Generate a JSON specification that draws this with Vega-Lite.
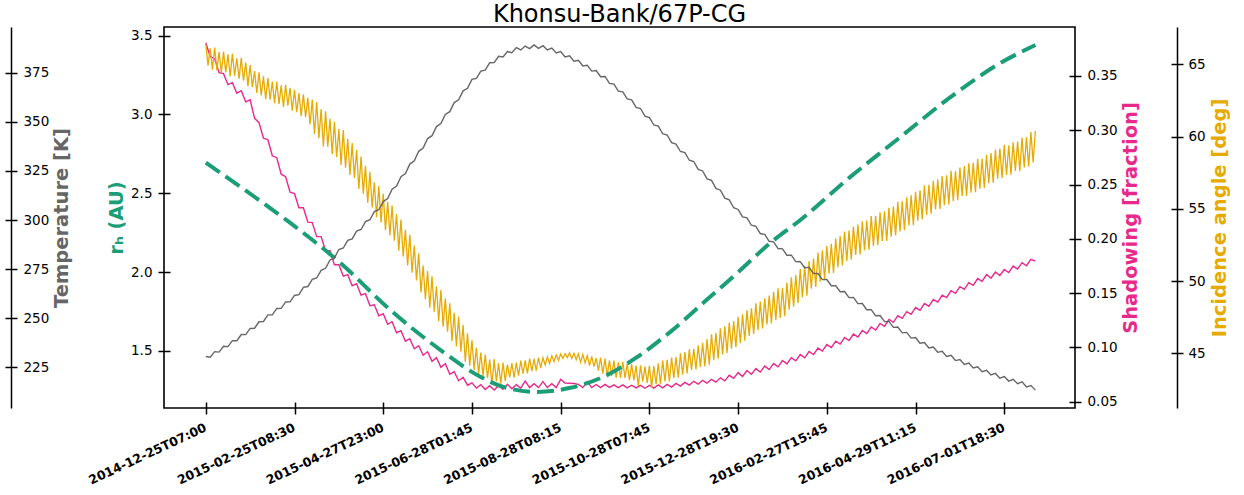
{
"$schema": "https://vega.github.io/schema/vega-lite/v6.json",
"width": 911, "height": 381,
"autosize": {"type": "none"},
"padding": {"left": 164, "top": 27, "right": 169, "bottom": 87},
"title": {"text": "Khonsu-Bank/67P-CG", "fontSize": 24, "font": "DejaVu Sans", "fontWeight": "normal", "color": "black", "anchor": "middle", "frame": "group", "offset": -19, "baseline": "alphabetic"},
"datasets": {
"temp": [{"i":0,"v":230.5},{"i":50,"v":230.15},{"i":100,"v":233.0},{"i":150,"v":232.75},{"i":200,"v":235.7},{"i":250,"v":235.55},{"i":300,"v":238.6},{"i":350,"v":238.55},{"i":400,"v":241.7},{"i":450,"v":241.65},{"i":500,"v":244.8},{"i":550,"v":244.9},{"i":600,"v":248.2},{"i":650,"v":248.35},{"i":700,"v":251.7},{"i":750,"v":251.75},{"i":800,"v":255.0},{"i":850,"v":255.05},{"i":900,"v":258.3},{"i":950,"v":258.35},{"i":1000,"v":261.6},{"i":1050,"v":262.05},{"i":1100,"v":265.7},{"i":1150,"v":266.15},{"i":1200,"v":269.8},{"i":1250,"v":270.5},{"i":1300,"v":274.4},{"i":1350,"v":275.45},{"i":1400,"v":279.7},{"i":1450,"v":280.75},{"i":1500,"v":285.0},{"i":1550,"v":285.75},{"i":1600,"v":289.7},{"i":1650,"v":290.45},{"i":1700,"v":294.4},{"i":1750,"v":295.2},{"i":1800,"v":299.2},{"i":1850,"v":300.15},{"i":1900,"v":304.3},{"i":1950,"v":305.25},{"i":2000,"v":309.4},{"i":2050,"v":310.95},{"i":2100,"v":315.7},{"i":2150,"v":317.3},{"i":2200,"v":322.1},{"i":2250,"v":323.7},{"i":2300,"v":328.5},{"i":2350,"v":330.15},{"i":2400,"v":335.0},{"i":2450,"v":336.65},{"i":2500,"v":341.5},{"i":2550,"v":342.95},{"i":2600,"v":347.6},{"i":2650,"v":349.1},{"i":2700,"v":353.8},{"i":2750,"v":355.2},{"i":2800,"v":359.8},{"i":2850,"v":361.2},{"i":2900,"v":365.8},{"i":2950,"v":367.1},{"i":3000,"v":371.6},{"i":3050,"v":372.1},{"i":3100,"v":375.8},{"i":3150,"v":376.35},{"i":3200,"v":380.1},{"i":3250,"v":380.15},{"i":3300,"v":383.4},{"i":3350,"v":383.0},{"i":3400,"v":385.8},{"i":3450,"v":385.2},{"i":3500,"v":387.8},{"i":3550,"v":386.6},{"i":3600,"v":388.6},{"i":3650,"v":387.3},{"i":3700,"v":389.2},{"i":3750,"v":387.4},{"i":3800,"v":388.8},{"i":3850,"v":386.6},{"i":3900,"v":387.6},{"i":3950,"v":385.1},{"i":4000,"v":385.8},{"i":4050,"v":383.1},{"i":4100,"v":383.6},{"i":4150,"v":380.85},{"i":4200,"v":381.3},{"i":4250,"v":378.45},{"i":4300,"v":378.8},{"i":4350,"v":375.85},{"i":4400,"v":376.1},{"i":4450,"v":373.0},{"i":4500,"v":373.1},{"i":4550,"v":369.55},{"i":4600,"v":369.2},{"i":4650,"v":365.65},{"i":4700,"v":365.3},{"i":4750,"v":361.65},{"i":4800,"v":361.2},{"i":4850,"v":357.4},{"i":4900,"v":356.8},{"i":4950,"v":352.9},{"i":5000,"v":352.2},{"i":5050,"v":348.4},{"i":5100,"v":347.8},{"i":5150,"v":343.95},{"i":5200,"v":343.3},{"i":5250,"v":339.4},{"i":5300,"v":338.7},{"i":5350,"v":334.9},{"i":5400,"v":334.3},{"i":5450,"v":330.45},{"i":5500,"v":329.8},{"i":5550,"v":325.8},{"i":5600,"v":325.0},{"i":5650,"v":321.0},{"i":5700,"v":320.2},{"i":5750,"v":316.1},{"i":5800,"v":315.2},{"i":5850,"v":311.15},{"i":5900,"v":310.3},{"i":5950,"v":306.25},{"i":6000,"v":305.4},{"i":6050,"v":301.65},{"i":6100,"v":301.1},{"i":6150,"v":297.35},{"i":6200,"v":296.8},{"i":6250,"v":293.15},{"i":6300,"v":292.7},{"i":6350,"v":289.2},{"i":6400,"v":288.9},{"i":6450,"v":285.5},{"i":6500,"v":285.3},{"i":6550,"v":282.1},{"i":6600,"v":282.1},{"i":6650,"v":278.85},{"i":6700,"v":278.8},{"i":6750,"v":275.75},{"i":6800,"v":275.9},{"i":6850,"v":272.75},{"i":6900,"v":272.8},{"i":6950,"v":269.65},{"i":7000,"v":269.7},{"i":7050,"v":266.55},{"i":7100,"v":266.6},{"i":7150,"v":263.5},{"i":7200,"v":263.6},{"i":7250,"v":260.5},{"i":7300,"v":260.6},{"i":7350,"v":257.45},{"i":7400,"v":257.5},{"i":7450,"v":254.35},{"i":7500,"v":254.4},{"i":7550,"v":251.3},{"i":7600,"v":251.4},{"i":7650,"v":248.3},{"i":7700,"v":248.4},{"i":7750,"v":245.35},{"i":7800,"v":245.5},{"i":7850,"v":242.55},{"i":7900,"v":242.8},{"i":7950,"v":239.9},{"i":8000,"v":240.2},{"i":8050,"v":237.3},{"i":8100,"v":237.6},{"i":8150,"v":234.85},{"i":8200,"v":235.3},{"i":8250,"v":232.65},{"i":8300,"v":233.2},{"i":8350,"v":230.55},{"i":8400,"v":231.1},{"i":8450,"v":228.45},{"i":8500,"v":229.0},{"i":8550,"v":226.5},{"i":8600,"v":227.2},{"i":8650,"v":224.65},{"i":8700,"v":225.3},{"i":8750,"v":222.8},{"i":8800,"v":223.5},{"i":8850,"v":221.1},{"i":8900,"v":221.9},{"i":8950,"v":219.5},{"i":9000,"v":220.3},{"i":9050,"v":218.0},{"i":9100,"v":218.9},{"i":9150,"v":216.65},{"i":9200,"v":217.6},{"i":9250,"v":215.05},{"i":9300,"v":215.7},{"i":9350,"v":213.4}],
"rh": [{"i":0,"v":2.694},{"i":388,"v":2.542},{"i":952,"v":2.312},{"i":1515,"v":2.059},{"i":2079,"v":1.760},{"i":2643,"v":1.507},{"i":3094,"v":1.336},{"i":3353,"v":1.272},{"i":3737,"v":1.240},{"i":4109,"v":1.266},{"i":4481,"v":1.336},{"i":4864,"v":1.462},{"i":5236,"v":1.621},{"i":5608,"v":1.805},{"i":5991,"v":1.995},{"i":6363,"v":2.185},{"i":6702,"v":2.331},{"i":7265,"v":2.604},{"i":7829,"v":2.857},{"i":8393,"v":3.110},{"i":8957,"v":3.327},{"i":9351,"v":3.441}],
"shad": [{"i":0,"v":0.3806},{"i":50,"v":0.3677},{"i":100,"v":0.3659},{"i":150,"v":0.3530},{"i":200,"v":0.3521},{"i":250,"v":0.3420},{"i":300,"v":0.3438},{"i":350,"v":0.3341},{"i":400,"v":0.3364},{"i":450,"v":0.3262},{"i":500,"v":0.3281},{"i":550,"v":0.3110},{"i":600,"v":0.3070},{"i":650,"v":0.2927},{"i":700,"v":0.2913},{"i":750,"v":0.2765},{"i":800,"v":0.2747},{"i":850,"v":0.2595},{"i":900,"v":0.2572},{"i":950,"v":0.2429},{"i":1000,"v":0.2416},{"i":1050,"v":0.2286},{"i":1100,"v":0.2287},{"i":1150,"v":0.2153},{"i":1200,"v":0.2149},{"i":1250,"v":0.2020},{"i":1300,"v":0.2020},{"i":1350,"v":0.1890},{"i":1400,"v":0.1891},{"i":1450,"v":0.1761},{"i":1500,"v":0.1762},{"i":1550,"v":0.1656},{"i":1600,"v":0.1670},{"i":1650,"v":0.1568},{"i":1700,"v":0.1587},{"i":1750,"v":0.1481},{"i":1800,"v":0.1495},{"i":1850,"v":0.1384},{"i":1900,"v":0.1393},{"i":1950,"v":0.1291},{"i":2000,"v":0.1310},{"i":2050,"v":0.1213},{"i":2100,"v":0.1237},{"i":2150,"v":0.1135},{"i":2200,"v":0.1154},{"i":2250,"v":0.1057},{"i":2300,"v":0.1080},{"i":2350,"v":0.0988},{"i":2400,"v":0.1016},{"i":2450,"v":0.0928},{"i":2500,"v":0.0960},{"i":2550,"v":0.0872},{"i":2600,"v":0.0905},{"i":2650,"v":0.0817},{"i":2700,"v":0.0850},{"i":2750,"v":0.0753},{"i":2800,"v":0.0776},{"i":2850,"v":0.0693},{"i":2900,"v":0.0725},{"i":2950,"v":0.0652},{"i":3000,"v":0.0674},{"i":3050,"v":0.0625},{"i":3100,"v":0.0656},{"i":3150,"v":0.0612},{"i":3200,"v":0.0647},{"i":3250,"v":0.0607},{"i":3300,"v":0.0647},{"i":3350,"v":0.0614},{"i":3400,"v":0.0661},{"i":3450,"v":0.0619},{"i":3500,"v":0.0656},{"i":3550,"v":0.0625},{"i":3600,"v":0.0690},{"i":3650,"v":0.0630},{"i":3700,"v":0.0665},{"i":3750,"v":0.0630},{"i":3800,"v":0.0685},{"i":3850,"v":0.0630},{"i":3900,"v":0.0665},{"i":3950,"v":0.0630},{"i":4000,"v":0.0705},{"i":4050,"v":0.0672},{"i":4100,"v":0.0670},{"i":4150,"v":0.0668},{"i":4200,"v":0.0660},{"i":4250,"v":0.0630},{"i":4300,"v":0.0685},{"i":4350,"v":0.0630},{"i":4400,"v":0.0658},{"i":4450,"v":0.0630},{"i":4500,"v":0.0660},{"i":4550,"v":0.0632},{"i":4600,"v":0.0655},{"i":4650,"v":0.0630},{"i":4700,"v":0.0655},{"i":4750,"v":0.0628},{"i":4800,"v":0.0652},{"i":4850,"v":0.0627},{"i":4900,"v":0.0650},{"i":4950,"v":0.0624},{"i":5000,"v":0.0651},{"i":5050,"v":0.0625},{"i":5100,"v":0.0655},{"i":5150,"v":0.0628},{"i":5200,"v":0.0660},{"i":5250,"v":0.0635},{"i":5300,"v":0.0669},{"i":5350,"v":0.0644},{"i":5400,"v":0.0678},{"i":5450,"v":0.0653},{"i":5500,"v":0.0688},{"i":5550,"v":0.0662},{"i":5600,"v":0.0697},{"i":5650,"v":0.0671},{"i":5700,"v":0.0706},{"i":5750,"v":0.0680},{"i":5800,"v":0.0720},{"i":5850,"v":0.0692},{"i":5900,"v":0.0743},{"i":5950,"v":0.0715},{"i":6000,"v":0.0768},{"i":6050,"v":0.0733},{"i":6100,"v":0.0787},{"i":6150,"v":0.0752},{"i":6200,"v":0.0805},{"i":6250,"v":0.0773},{"i":6300,"v":0.0828},{"i":6350,"v":0.0796},{"i":6400,"v":0.0851},{"i":6450,"v":0.0821},{"i":6500,"v":0.0879},{"i":6550,"v":0.0848},{"i":6600,"v":0.0906},{"i":6650,"v":0.0876},{"i":6700,"v":0.0934},{"i":6750,"v":0.0904},{"i":6800,"v":0.0962},{"i":6850,"v":0.0934},{"i":6900,"v":0.0994},{"i":6950,"v":0.0966},{"i":7000,"v":0.1026},{"i":7050,"v":0.0998},{"i":7100,"v":0.1058},{"i":7150,"v":0.1031},{"i":7200,"v":0.1091},{"i":7250,"v":0.1063},{"i":7300,"v":0.1123},{"i":7350,"v":0.1095},{"i":7400,"v":0.1155},{"i":7450,"v":0.1127},{"i":7500,"v":0.1188},{"i":7550,"v":0.1160},{"i":7600,"v":0.1220},{"i":7650,"v":0.1194},{"i":7700,"v":0.1257},{"i":7750,"v":0.1231},{"i":7800,"v":0.1293},{"i":7850,"v":0.1268},{"i":7900,"v":0.1330},{"i":7950,"v":0.1305},{"i":8000,"v":0.1367},{"i":8050,"v":0.1342},{"i":8100,"v":0.1404},{"i":8150,"v":0.1379},{"i":8200,"v":0.1441},{"i":8250,"v":0.1418},{"i":8300,"v":0.1482},{"i":8350,"v":0.1459},{"i":8400,"v":0.1523},{"i":8450,"v":0.1498},{"i":8500,"v":0.1560},{"i":8550,"v":0.1535},{"i":8600,"v":0.1597},{"i":8650,"v":0.1572},{"i":8700,"v":0.1634},{"i":8750,"v":0.1609},{"i":8800,"v":0.1671},{"i":8850,"v":0.1638},{"i":8900,"v":0.1694},{"i":8950,"v":0.1662},{"i":9000,"v":0.1717},{"i":9050,"v":0.1689},{"i":9100,"v":0.1749},{"i":9150,"v":0.1721},{"i":9200,"v":0.1781},{"i":9250,"v":0.1752},{"i":9300,"v":0.1812},{"i":9350,"v":0.1795}],
"inc": [{"i":0,"v":66.39},{"i":25,"v":64.92},{"i":50,"v":66.10},{"i":75,"v":64.63},{"i":100,"v":66.16},{"i":125,"v":64.59},{"i":150,"v":65.87},{"i":175,"v":64.40},{"i":200,"v":65.88},{"i":225,"v":64.44},{"i":250,"v":65.69},{"i":275,"v":64.15},{"i":300,"v":65.75},{"i":325,"v":64.21},{"i":350,"v":65.41},{"i":375,"v":64.00},{"i":400,"v":65.44},{"i":425,"v":63.86},{"i":450,"v":65.12},{"i":475,"v":63.49},{"i":500,"v":64.95},{"i":525,"v":63.42},{"i":550,"v":64.53},{"i":575,"v":63.01},{"i":600,"v":64.44},{"i":625,"v":62.85},{"i":650,"v":64.16},{"i":675,"v":62.58},{"i":700,"v":64.04},{"i":725,"v":62.55},{"i":750,"v":63.81},{"i":775,"v":62.31},{"i":800,"v":63.80},{"i":825,"v":62.25},{"i":850,"v":63.54},{"i":875,"v":62.04},{"i":900,"v":63.58},{"i":925,"v":62.13},{"i":950,"v":63.37},{"i":975,"v":61.78},{"i":1000,"v":63.23},{"i":1025,"v":61.69},{"i":1050,"v":63.00},{"i":1075,"v":61.41},{"i":1100,"v":62.92},{"i":1125,"v":61.33},{"i":1150,"v":62.68},{"i":1175,"v":60.84},{"i":1200,"v":62.55},{"i":1225,"v":60.17},{"i":1250,"v":62.38},{"i":1275,"v":59.89},{"i":1300,"v":61.90},{"i":1325,"v":59.32},{"i":1350,"v":61.74},{"i":1375,"v":59.29},{"i":1400,"v":61.23},{"i":1425,"v":58.78},{"i":1450,"v":61.02},{"i":1475,"v":58.57},{"i":1500,"v":60.51},{"i":1525,"v":58.03},{"i":1550,"v":60.44},{"i":1575,"v":57.84},{"i":1600,"v":59.84},{"i":1625,"v":57.34},{"i":1650,"v":59.54},{"i":1675,"v":57.14},{"i":1700,"v":59.08},{"i":1725,"v":56.37},{"i":1750,"v":58.61},{"i":1775,"v":56.05},{"i":1800,"v":57.98},{"i":1825,"v":55.41},{"i":1850,"v":57.54},{"i":1875,"v":55.09},{"i":1900,"v":56.83},{"i":1925,"v":54.41},{"i":1950,"v":56.58},{"i":1975,"v":54.06},{"i":2000,"v":56.03},{"i":2025,"v":53.51},{"i":2050,"v":55.48},{"i":2075,"v":53.16},{"i":2100,"v":55.23},{"i":2125,"v":52.79},{"i":2150,"v":54.64},{"i":2175,"v":52.10},{"i":2200,"v":54.25},{"i":2225,"v":51.70},{"i":2250,"v":53.55},{"i":2275,"v":51.08},{"i":2300,"v":53.20},{"i":2325,"v":50.58},{"i":2350,"v":52.46},{"i":2375,"v":50.04},{"i":2400,"v":51.92},{"i":2425,"v":49.20},{"i":2450,"v":51.07},{"i":2475,"v":48.73},{"i":2500,"v":50.69},{"i":2525,"v":48.16},{"i":2550,"v":50.32},{"i":2575,"v":47.88},{"i":2600,"v":49.64},{"i":2625,"v":47.21},{"i":2650,"v":49.37},{"i":2675,"v":46.84},{"i":2700,"v":48.81},{"i":2725,"v":46.49},{"i":2750,"v":48.46},{"i":2775,"v":45.83},{"i":2800,"v":47.80},{"i":2825,"v":45.47},{"i":2850,"v":47.54},{"i":2875,"v":45.10},{"i":2900,"v":46.96},{"i":2925,"v":44.42},{"i":2950,"v":46.38},{"i":2975,"v":44.14},{"i":3000,"v":45.90},{"i":3025,"v":43.84},{"i":3050,"v":45.38},{"i":3075,"v":43.57},{"i":3100,"v":45.05},{"i":3125,"v":43.43},{"i":3150,"v":44.91},{"i":3175,"v":43.29},{"i":3200,"v":44.57},{"i":3225,"v":42.83},{"i":3250,"v":44.59},{"i":3275,"v":43.06},{"i":3300,"v":44.32},{"i":3325,"v":42.89},{"i":3350,"v":44.35},{"i":3375,"v":43.09},{"i":3400,"v":44.22},{"i":3425,"v":43.32},{"i":3450,"v":44.31},{"i":3475,"v":43.31},{"i":3500,"v":44.35},{"i":3525,"v":43.45},{"i":3550,"v":44.49},{"i":3575,"v":43.58},{"i":3600,"v":44.51},{"i":3625,"v":43.60},{"i":3650,"v":44.63},{"i":3675,"v":43.77},{"i":3700,"v":44.61},{"i":3725,"v":43.80},{"i":3750,"v":44.69},{"i":3775,"v":43.99},{"i":3800,"v":44.69},{"i":3825,"v":44.19},{"i":3850,"v":44.74},{"i":3875,"v":44.29},{"i":3900,"v":44.83},{"i":3925,"v":44.43},{"i":3950,"v":44.88},{"i":3975,"v":44.52},{"i":4000,"v":44.95},{"i":4025,"v":44.64},{"i":4050,"v":44.97},{"i":4075,"v":44.70},{"i":4100,"v":45.03},{"i":4125,"v":44.64},{"i":4150,"v":45.00},{"i":4175,"v":44.56},{"i":4200,"v":44.96},{"i":4225,"v":44.37},{"i":4250,"v":44.92},{"i":4275,"v":44.33},{"i":4300,"v":44.84},{"i":4325,"v":44.14},{"i":4350,"v":44.79},{"i":4375,"v":44.08},{"i":4400,"v":44.66},{"i":4425,"v":43.80},{"i":4450,"v":44.69},{"i":4475,"v":43.59},{"i":4500,"v":44.63},{"i":4525,"v":43.45},{"i":4550,"v":44.51},{"i":4575,"v":43.43},{"i":4600,"v":44.49},{"i":4625,"v":43.31},{"i":4650,"v":44.37},{"i":4675,"v":43.29},{"i":4700,"v":44.41},{"i":4725,"v":43.29},{"i":4750,"v":44.26},{"i":4775,"v":43.13},{"i":4800,"v":44.25},{"i":4825,"v":43.13},{"i":4850,"v":44.15},{"i":4875,"v":42.73},{"i":4900,"v":44.16},{"i":4925,"v":43.04},{"i":4950,"v":44.07},{"i":4975,"v":42.95},{"i":5000,"v":44.13},{"i":5025,"v":42.62},{"i":5050,"v":44.11},{"i":5075,"v":42.86},{"i":5100,"v":44.30},{"i":5125,"v":42.85},{"i":5150,"v":44.50},{"i":5175,"v":43.05},{"i":5200,"v":44.54},{"i":5225,"v":43.05},{"i":5250,"v":44.70},{"i":5275,"v":43.27},{"i":5300,"v":44.74},{"i":5325,"v":43.32},{"i":5350,"v":44.99},{"i":5375,"v":43.52},{"i":5400,"v":45.09},{"i":5425,"v":43.61},{"i":5450,"v":45.27},{"i":5475,"v":43.84},{"i":5500,"v":45.31},{"i":5525,"v":43.88},{"i":5550,"v":45.54},{"i":5575,"v":44.06},{"i":5600,"v":45.73},{"i":5625,"v":44.09},{"i":5650,"v":45.99},{"i":5675,"v":44.20},{"i":5700,"v":46.31},{"i":5725,"v":44.52},{"i":5750,"v":46.42},{"i":5775,"v":44.62},{"i":5800,"v":46.72},{"i":5825,"v":44.92},{"i":5850,"v":46.87},{"i":5875,"v":45.02},{"i":5900,"v":47.12},{"i":5925,"v":45.32},{"i":5950,"v":47.22},{"i":5975,"v":45.42},{"i":6000,"v":47.52},{"i":6025,"v":45.69},{"i":6050,"v":47.70},{"i":6075,"v":45.87},{"i":6100,"v":47.98},{"i":6125,"v":46.20},{"i":6150,"v":48.11},{"i":6175,"v":46.33},{"i":6200,"v":48.45},{"i":6225,"v":46.59},{"i":6250,"v":48.58},{"i":6275,"v":46.72},{"i":6300,"v":48.81},{"i":6325,"v":47.00},{"i":6350,"v":48.99},{"i":6375,"v":47.07},{"i":6400,"v":49.25},{"i":6425,"v":47.30},{"i":6450,"v":49.49},{"i":6475,"v":47.44},{"i":6500,"v":49.53},{"i":6525,"v":47.57},{"i":6550,"v":49.90},{"i":6575,"v":48.01},{"i":6600,"v":50.26},{"i":6625,"v":48.22},{"i":6650,"v":50.42},{"i":6675,"v":48.48},{"i":6700,"v":50.83},{"i":6725,"v":48.87},{"i":6750,"v":51.05},{"i":6775,"v":48.99},{"i":6800,"v":51.38},{"i":6825,"v":49.47},{"i":6850,"v":51.55},{"i":6875,"v":49.59},{"i":6900,"v":51.97},{"i":6925,"v":49.95},{"i":6950,"v":52.12},{"i":6975,"v":50.10},{"i":7000,"v":52.42},{"i":7025,"v":50.50},{"i":7050,"v":52.57},{"i":7075,"v":50.56},{"i":7100,"v":52.94},{"i":7125,"v":50.95},{"i":7150,"v":53.11},{"i":7175,"v":51.07},{"i":7200,"v":53.43},{"i":7225,"v":51.39},{"i":7250,"v":53.49},{"i":7275,"v":51.48},{"i":7300,"v":53.77},{"i":7325,"v":51.81},{"i":7350,"v":53.90},{"i":7375,"v":51.84},{"i":7400,"v":54.13},{"i":7425,"v":52.11},{"i":7450,"v":54.19},{"i":7475,"v":52.17},{"i":7500,"v":54.50},{"i":7525,"v":52.43},{"i":7550,"v":54.50},{"i":7575,"v":52.48},{"i":7600,"v":54.75},{"i":7625,"v":52.77},{"i":7650,"v":54.83},{"i":7675,"v":52.77},{"i":7700,"v":55.06},{"i":7725,"v":53.06},{"i":7750,"v":55.15},{"i":7775,"v":53.15},{"i":7800,"v":55.49},{"i":7825,"v":53.43},{"i":7850,"v":55.51},{"i":7875,"v":53.51},{"i":7900,"v":55.80},{"i":7925,"v":53.84},{"i":7950,"v":55.93},{"i":7975,"v":53.88},{"i":8000,"v":56.17},{"i":8025,"v":54.18},{"i":8050,"v":56.28},{"i":8075,"v":54.28},{"i":8100,"v":56.62},{"i":8125,"v":54.57},{"i":8150,"v":56.66},{"i":8175,"v":54.65},{"i":8200,"v":56.93},{"i":8225,"v":54.96},{"i":8250,"v":57.04},{"i":8275,"v":54.98},{"i":8300,"v":57.26},{"i":8325,"v":55.24},{"i":8350,"v":57.32},{"i":8375,"v":55.30},{"i":8400,"v":57.62},{"i":8425,"v":55.54},{"i":8450,"v":57.61},{"i":8475,"v":55.59},{"i":8500,"v":57.86},{"i":8525,"v":55.89},{"i":8550,"v":57.96},{"i":8575,"v":55.88},{"i":8600,"v":58.15},{"i":8625,"v":56.12},{"i":8650,"v":58.18},{"i":8675,"v":56.15},{"i":8700,"v":58.46},{"i":8725,"v":56.38},{"i":8750,"v":58.45},{"i":8775,"v":56.44},{"i":8800,"v":58.73},{"i":8825,"v":56.77},{"i":8850,"v":58.86},{"i":8875,"v":56.80},{"i":8900,"v":59.09},{"i":8925,"v":57.08},{"i":8950,"v":59.17},{"i":8975,"v":57.13},{"i":9000,"v":59.43},{"i":9025,"v":57.34},{"i":9050,"v":59.39},{"i":9075,"v":57.35},{"i":9100,"v":59.60},{"i":9125,"v":57.61},{"i":9150,"v":59.66},{"i":9175,"v":57.60},{"i":9200,"v":59.93},{"i":9225,"v":57.86},{"i":9250,"v":59.94},{"i":9275,"v":57.93},{"i":9300,"v":60.31},{"i":9325,"v":58.20},{"i":9350,"v":60.38}]
},
"encoding": {
"x": {"field": "i", "type": "quantitative", "scale": {"domain": [-471, 9797], "nice": false, "zero": false},
 "axis": {"orient": "bottom", "offset": -6, "tickSize": 12, "domain": false, "values": [0,1000,2000,3000,4000,5000,6000,7000,8000,9000],
  "labelExpr": "['2014-12-25T07:00','2015-02-25T08:30','2015-04-27T23:00','2015-06-28T01:45','2015-08-28T08:15','2015-10-28T07:45','2015-12-28T19:30','2016-02-27T15:45','2016-04-29T11:15','2016-07-01T18:30'][round(datum.value/1000)]",
  "labelAngle": -25, "labelAlign": "right", "labelBaseline": "top", "labelFontWeight": "bold", "labelFontSize": 12.5, "labelPadding": 7, "labelOffset": -3, "title": null}}
},
"layer": [
{"data": {"name": "temp"}, "mark": {"type": "line", "opacity": 0},
 "encoding": {"y": {"field": "v", "type": "quantitative", "scale": {"domain": [204.3, 398.3], "nice": false, "zero": false},
  "axis": {"orient": "left", "offset": 153, "domain": true, "ticks": false, "labels": false, "title": null}}}},
{"data": {"name": "inc"}, "mark": {"type": "line", "opacity": 0},
 "encoding": {"y": {"field": "v", "type": "quantitative", "scale": {"domain": [41.21, 67.58], "nice": false, "zero": false},
  "axis": {"orient": "right", "offset": 102, "domain": true, "ticks": false, "labels": false, "title": null}}}},
{"data": {"name": "shad"}, "mark": {"type": "line", "color": "#e7298a", "strokeWidth": 1.4},
 "encoding": {"y": {"field": "v", "type": "quantitative", "scale": {"domain": [0.0442, 0.3951], "nice": false, "zero": false},
  "axis": {"orient": "right", "offset": -6, "tickSize": 12, "domain": false, "values": [0.05,0.1,0.15,0.2,0.25,0.3,0.35], "format": ".2f", "labelPadding": 6,
   "title": "Shadowing [fraction]", "titleColor": "#e7298a", "titleAngle": 270, "titleBaseline": "top", "titlePadding": 4}}}},
{"data": {"name": "inc"}, "mark": {"type": "line", "color": "#e6ab02", "strokeWidth": 1.3},
 "encoding": {"y": {"field": "v", "type": "quantitative", "scale": {"domain": [41.21, 67.58], "nice": false, "zero": false},
  "axis": {"orient": "right", "offset": 96, "tickSize": 12, "domain": false, "values": [45,50,55,60,65], "labelPadding": 5,
   "title": "Incidence angle [deg]", "titleColor": "#e6ab02", "titleAngle": 270, "titleBaseline": "top", "titlePadding": 5}}}},
{"data": {"name": "rh"}, "mark": {"type": "line", "color": "#1b9e77", "strokeWidth": 4, "strokeDash": [17, 7], "interpolate": "monotone"},
 "encoding": {"y": {"field": "v", "type": "quantitative", "scale": {"domain": [1.138, 3.555], "nice": false, "zero": false},
  "axis": {"orient": "left", "offset": -6, "tickSize": 12, "domain": false, "values": [1.5,2,2.5,3,3.5], "format": ".1f", "labelPadding": 6,
   "title": "rₕ (AU)", "titleColor": "#1b9e77", "titlePadding": 4}}}},
{"data": {"name": "temp"}, "mark": {"type": "line", "color": "#666666", "strokeWidth": 1.4},
 "encoding": {"y": {"field": "v", "type": "quantitative", "scale": {"domain": [204.3, 398.3], "nice": false, "zero": false},
  "axis": {"orient": "right", "offset": -1070, "tickSize": 12, "domain": false, "values": [225,250,275,300,325,350,375], "labelPadding": 6,
   "title": "Temperature [K]", "titleColor": "#666666", "titleAngle": 270, "titleBaseline": "top", "titlePadding": 4}}}}
],
"resolve": {"scale": {"y": "independent"}, "axis": {"y": "independent"}},
"config": {
 "background": "white",
 "view": {"stroke": "black", "strokeWidth": 1.6},
 "axis": {"grid": false, "labelFont": "DejaVu Sans", "labelFontSize": 13.5, "labelColor": "black", "tickColor": "black", "tickWidth": 1.5, "domainColor": "black", "domainWidth": 1.5, "titleFont": "DejaVu Sans", "titleFontWeight": "bold", "titleFontSize": 19.5, "labelOverlap": false, "labelFlush": false}
}
}
